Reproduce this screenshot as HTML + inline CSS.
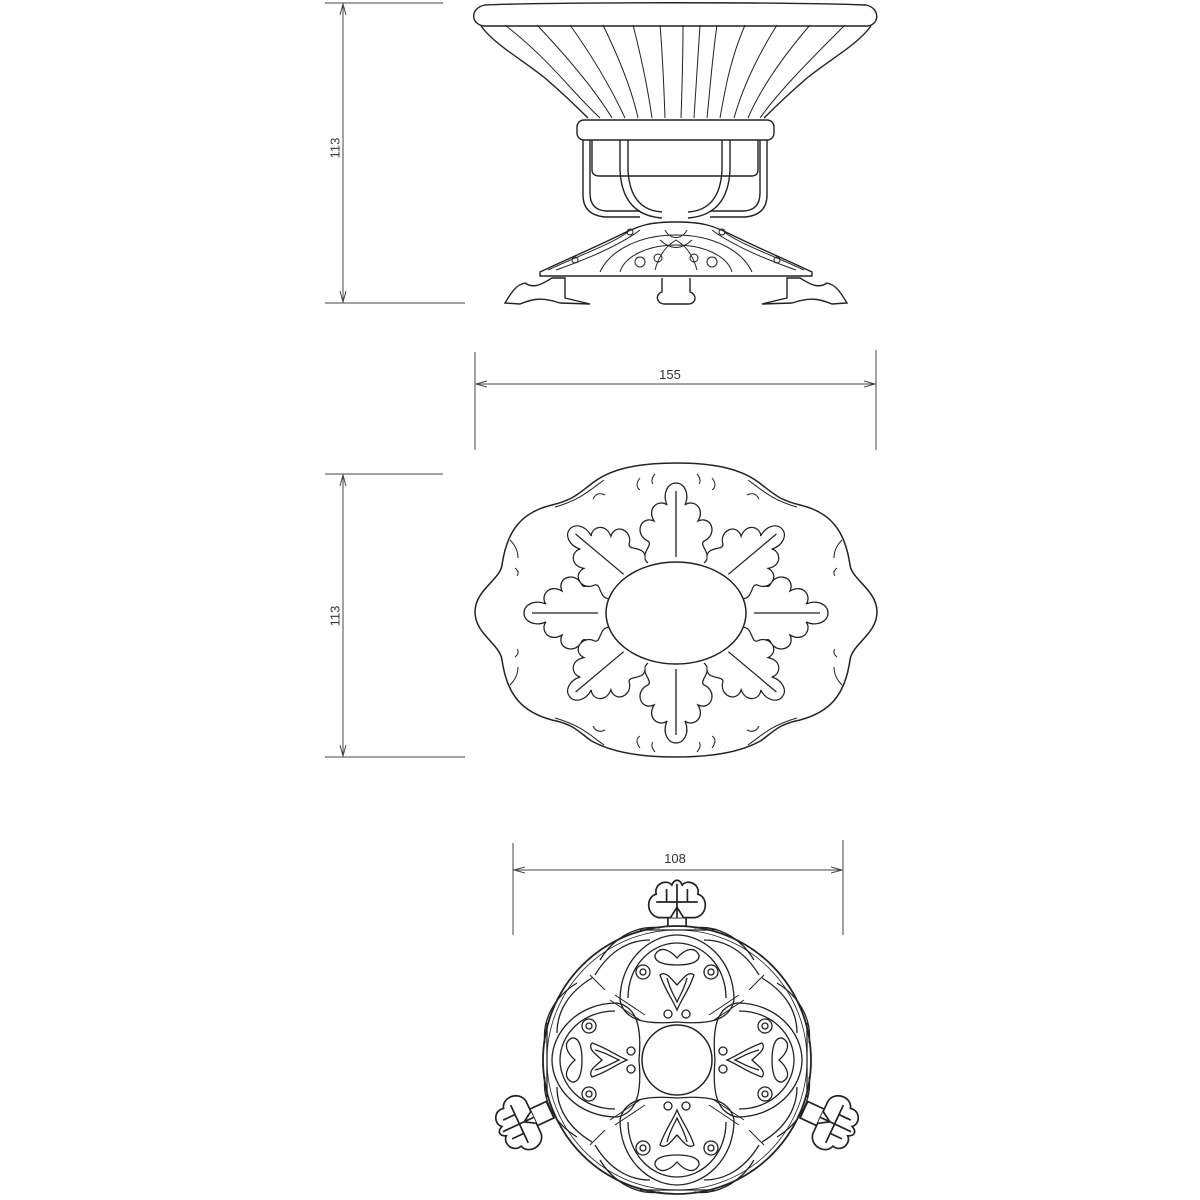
<!DOCTYPE html>
<html><head><meta charset="utf-8"><style>
html,body{margin:0;padding:0;background:#fff;}
svg{display:block}
text{font-family:"Liberation Sans",sans-serif;font-size:13px;fill:#333}
</style></head><body>
<svg width="1200" height="1200" viewBox="0 0 1200 1200" xmlns="http://www.w3.org/2000/svg">
<defs>
<marker id="ar" markerWidth="12" markerHeight="8" refX="11" refY="4" orient="auto-start-reverse" markerUnits="userSpaceOnUse">
<path d="M0,1 L11,4 L0,7" fill="none" stroke="#444" stroke-width="1"/>
</marker>
<g id="leaf" fill="#fff" stroke="#222" stroke-width="1.3">
<path d="M-28,0 C-38,-8 -22,-18 -28,-22 C-42,-28 -36,-48 -22,-42 C-30,-56 -16,-64 -9,-58 C-14,-70 -8,-80 0,-80 C8,-80 14,-70 9,-58 C16,-64 30,-56 22,-42 C36,-48 42,-28 28,-22 C22,-18 38,-8 28,0"/>
<line x1="0" y1="-6" x2="0" y2="-72"/>
</g>
<g id="foot" fill="#fff" stroke="#222" stroke-width="1.3">
<rect x="-7" y="-8" width="14" height="14"/>
<path d="M-14,-8 C-24,-10 -24,-24 -16,-26 C-18,-34 -8,-38 -4,-33 C-2,-38 2,-38 4,-33 C8,-38 18,-34 16,-26 C24,-24 24,-10 14,-8 Z"/>
<path d="M0,-34 L0,-8 M-16,-20 L16,-20 M-5,-8 L0,-16 L5,-8 M-8,-30 L-8,-20 M8,-30 L8,-20"/>
</g>
</defs>
<g stroke="#444" stroke-width="1" fill="none">
<line x1="325" y1="3" x2="443" y2="3"/>
<line x1="325" y1="303" x2="465" y2="303"/>
<line x1="343" y1="4" x2="343" y2="302" marker-start="url(#ar)" marker-end="url(#ar)"/>
<line x1="475" y1="352" x2="475" y2="450"/>
<line x1="876" y1="350" x2="876" y2="450"/>
<line x1="476" y1="384" x2="875" y2="384" marker-start="url(#ar)" marker-end="url(#ar)"/>
<line x1="325" y1="474" x2="443" y2="474"/>
<line x1="325" y1="757" x2="465" y2="757"/>
<line x1="343" y1="475" x2="343" y2="756" marker-start="url(#ar)" marker-end="url(#ar)"/>
<line x1="513" y1="843" x2="513" y2="935"/>
<line x1="843" y1="840" x2="843" y2="935"/>
<line x1="514" y1="870" x2="842" y2="870" marker-start="url(#ar)" marker-end="url(#ar)"/>
</g>
<text x="336" y="148" text-anchor="middle" transform="rotate(-90 336 148)" dominant-baseline="middle">113</text>
<text x="336" y="616" text-anchor="middle" transform="rotate(-90 336 616)" dominant-baseline="middle">113</text>
<text x="670" y="379" text-anchor="middle">155</text>
<text x="675" y="863" text-anchor="middle">108</text>

<g fill="none" stroke="#222" stroke-width="1.4">
<path d="M485,5 C560,2 790,2 866,5 C880,8 880,24 868,26 C790,26 560,26 484,26 C470,24 470,8 485,5 Z"/>
<path d="M481,26 C495,45 520,58 545,78 C568,98 580,110 588,118"/>
<path d="M871,26 C857,45 832,58 807,78 C784,98 772,110 764,118"/>
<g stroke-width="1">
<path d="M505,25 C550,60 570,90 600,118"/>
<path d="M537,25 C570,60 595,90 612,118"/>
<path d="M570,25 C595,60 612,90 625,118"/>
<path d="M603,25 C620,60 632,90 638,118"/>
<path d="M633,25 C642,60 648,90 652,118"/>
<path d="M660,25 C663,60 664,90 665,118"/>
<path d="M683,25 C683,60 682,90 681,118"/>
<path d="M700,25 C698,60 696,90 694,118"/>
<path d="M717,25 C712,60 710,90 707,118"/>
<path d="M745,25 C730,60 725,90 720,118"/>
<path d="M777,25 C755,60 742,90 734,118"/>
<path d="M810,25 C780,60 760,90 748,118"/>
<path d="M845,25 C810,60 780,90 760,118"/>
</g>
<rect x="577" y="120" width="197" height="20" rx="7" fill="#fff"/>
<path d="M592,140 L592,170 Q592,176 600,176 L751,176 Q758,176 758,170 L758,140"/>
<path d="M583,140 L583,195 Q583,215 605,217 L640,217 M590,140 L590,193 Q590,210 606,211 L640,211"/>
<path d="M767,140 L767,195 Q767,215 745,217 L710,217 M760,140 L760,193 Q760,210 744,211 L710,211"/>
<path d="M620,140 L620,170 Q622,215 662,218 M628,140 L628,170 Q630,210 662,212"/>
<path d="M730,140 L730,170 Q728,215 688,218 M722,140 L722,170 Q720,210 688,212"/>
<path d="M540,272 C570,258 600,245 620,235 C640,225 650,222 676,222 C702,222 712,225 732,235 C752,245 782,258 812,272 L812,276 L540,276 Z" fill="#fff"/>
<g stroke-width="1">
<path d="M548,270 C580,255 610,245 628,232 M556,270 C590,258 620,245 640,230"/>
<path d="M804,270 C772,255 742,245 724,232 M796,270 C762,258 732,245 712,230"/>
<path d="M600,272 C610,250 640,235 676,235 C712,235 742,250 752,272"/>
<path d="M620,272 C625,255 650,245 676,245 C702,245 727,255 732,272"/>
<path d="M655,270 C660,252 668,245 676,240 C684,245 692,252 697,270"/>
<circle cx="640" cy="262" r="5"/><circle cx="712" cy="262" r="5"/>
<circle cx="658" cy="258" r="4"/><circle cx="694" cy="258" r="4"/>
<circle cx="630" cy="232" r="3"/><circle cx="722" cy="232" r="3"/>
<circle cx="575" cy="260" r="3"/><circle cx="777" cy="260" r="3"/>
<path d="M665,230 C670,240 682,240 687,230 M660,240 Q676,255 692,240"/>
</g>
<path d="M565,278 L565,298 L590,304 L560,303 C540,296 530,300 520,304 L505,303 C510,295 515,285 525,283 C535,290 545,282 552,278 Z" fill="#fff"/>
<path d="M787,278 L787,298 L762,304 L792,303 C812,296 822,300 832,304 L847,303 C842,295 837,285 827,283 C817,290 807,282 800,278 Z" fill="#fff"/>
<path d="M662,278 L662,292 C655,294 656,304 665,304 L688,304 C697,304 697,294 690,292 L690,278" fill="#fff"/>
</g>

<g fill="none" stroke="#222" stroke-width="1.5">
<path d="M590,485 C610,468 640,463 676,463 C712,463 742,468 762,485 C775,495 780,500 800,505 C830,512 845,530 850,565 C852,580 877,590 877,612 C877,634 852,644 850,660 C845,695 830,712 800,720 C780,724 775,730 762,740 C742,752 712,757 676,757 C640,757 610,752 590,740 C577,730 572,724 552,720 C522,712 507,695 502,660 C500,644 475,634 475,612 C475,590 500,580 502,565 C507,530 522,512 552,505 C572,500 577,495 590,485 Z"/>
<g stroke-width="1">
<path d="M604,480 C590,490 580,500 555,507 M748,480 C762,490 772,500 797,507"/>
<path d="M604,745 C590,735 580,725 555,718 M748,745 C762,735 772,725 797,718"/>
<path d="M640,478 q-6,8 0,12 M712,478 q6,8 0,12 M655,474 q-5,6 -2,10 M697,474 q5,6 2,10"/>
<path d="M640,748 q-6,-8 0,-12 M712,748 q6,-8 0,-12 M655,752 q-5,-6 -2,-10 M697,752 q5,-6 2,-10"/>
<path d="M510,540 q8,8 8,18 M515,568 q5,4 2,8 M842,540 q-8,8 -8,18 M837,568 q-5,4 -2,8"/>
<path d="M510,685 q8,-8 8,-18 M515,657 q5,-4 2,-8 M842,685 q-8,-8 -8,-18 M837,657 q-5,-4 -2,-8"/>
<path d="M605,495 q-8,-4 -12,4 M747,495 q8,-4 12,4 M605,730 q-8,4 -12,-4 M747,730 q8,4 12,-4"/>
</g>
</g>
<use href="#leaf" transform="translate(676,563)"/>
<use href="#leaf" transform="translate(676,663) rotate(180)"/>
<use href="#leaf" transform="translate(604,613) rotate(-90)"/>
<use href="#leaf" transform="translate(748,613) rotate(90)"/>
<use href="#leaf" transform="translate(628,578) rotate(-50) scale(0.95)"/>
<use href="#leaf" transform="translate(724,578) rotate(50) scale(0.95)"/>
<use href="#leaf" transform="translate(628,648) rotate(-130) scale(0.95)"/>
<use href="#leaf" transform="translate(724,648) rotate(130) scale(0.95)"/>
<ellipse cx="676" cy="613" rx="70" ry="51" fill="#fff" stroke="#222" stroke-width="1.5"/>

<use href="#foot" transform="translate(677,928) scale(1.3)"/>
<use href="#foot" transform="translate(543,1113) rotate(-115) scale(1.3)"/>
<use href="#foot" transform="translate(811,1113) rotate(115) scale(1.3)"/>
<g fill="none" stroke="#222" stroke-width="1.3">
<circle cx="677" cy="1060" r="134" fill="#fff" stroke-width="1.8"/>
<circle cx="677" cy="1060" r="130" stroke-width="0.8"/>
<g id="quad">
<path d="M620,1000 C620,960 650,935 677,935 C704,935 734,960 734,1000 C730,1020 710,1025 677,1022 C644,1025 624,1020 620,1000 Z"/>
<path d="M628,998 C628,965 652,943 677,943 C702,943 726,965 726,998"/>
<path d="M655,955 C660,945 670,950 677,958 C684,950 694,945 699,955 C700,962 690,965 677,965 C664,965 654,962 655,955 Z"/>
<path d="M660,975 C665,990 672,998 677,1010 C682,998 689,990 694,975 C688,970 682,980 677,985 C672,980 666,970 660,975 Z"/>
<path d="M667,978 C670,990 674,995 677,1002 C680,995 684,990 687,978"/>
<circle cx="643" cy="972" r="7"/><circle cx="643" cy="972" r="3"/>
<circle cx="711" cy="972" r="7"/><circle cx="711" cy="972" r="3"/>
<circle cx="668" cy="1014" r="4"/><circle cx="686" cy="1014" r="4"/>
<path d="M600,960 C615,935 640,925 660,928 M754,960 C739,935 714,925 694,928"/>
<path d="M595,975 C610,950 630,940 650,940 M759,975 C744,950 724,940 704,940"/>
<path d="M640,930 L714,930"/>
</g>
<use href="#quad" transform="rotate(90 677 1060)"/>
<use href="#quad" transform="rotate(180 677 1060)"/>
<use href="#quad" transform="rotate(270 677 1060)"/>
<g stroke-width="1">
<path d="M610,1000 L640,1020 M615,995 L645,1015"/>
<path d="M744,1000 L714,1020 M739,995 L709,1015"/>
<path d="M610,1120 L640,1100 M615,1125 L645,1105"/>
<path d="M744,1120 L714,1100 M739,1125 L709,1105"/>
<path d="M590,975 L605,990 M764,975 L749,990 M590,1145 L605,1130 M764,1145 L749,1130"/>
</g>
<circle cx="677" cy="1060" r="35" fill="#fff" stroke-width="1.5"/>
</g>
</svg>
</body></html>
